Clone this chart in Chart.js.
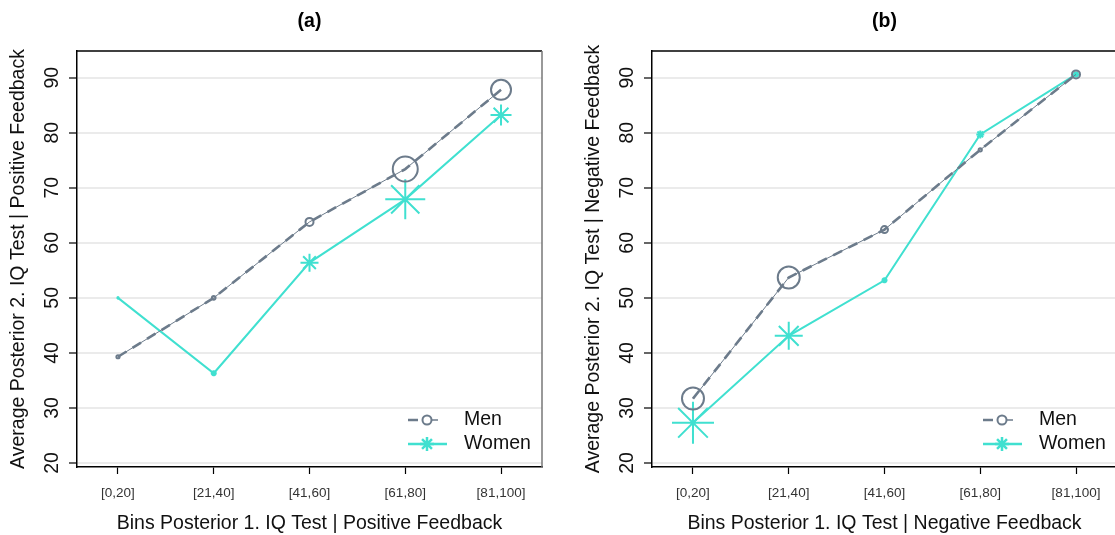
<!DOCTYPE html>
<html><head><meta charset="utf-8">
<script src="https://cdn.jsdelivr.net/npm/chart.js@4.4.0/dist/chart.umd.min.js"></script>
<style>
html,body{margin:0;padding:0;background:#fff;overflow:hidden;width:1115px;height:535px;position:relative;}
.panel{position:absolute;top:0;width:575px;height:535px;}
#pa{left:0}
#pb{left:575px}
</style></head><body>
<div class="panel" id="pa"><canvas id="ca" width="575" height="535"></canvas></div>
<div class="panel" id="pb"><canvas id="cb" width="575" height="535"></canvas></div>
<script>
// ---- data ----
const categories = ['[0,20]', '[21,40]', '[41,60]', '[61,80]', '[81,100]'];
const yTicks = [20, 30, 40, 50, 60, 70, 80, 90];
const seriesNames = ['Men', 'Women'];

const menA   = [39.3, 50.0, 63.8, 73.4, 87.8];
const womenA = [50.0, 36.3, 56.4, 67.9, 83.2];
const menB   = [31.7, 53.7, 62.4, 76.9, 90.6];
const womenB = [27.3, 43.1, 53.2, 79.7, 90.6];

// marker radii (marker size varies by bin)
const menRadA   = [1.6, 1.8, 4, 12.5, 10];
const womenRadA = [1.5, 3, 9, 20, 10.5];
const menRadB   = [11, 11, 3.5, 1.6, 4];
const womenRadB = [21, 14, 3, 4, 3];

const titleA = '(a)';
const titleB = '(b)';
const yTitleA = 'Average Posterior 2. IQ Test | Positive Feedback';
const yTitleB = 'Average Posterior 2. IQ Test | Negative Feedback';
const xTitleA = 'Bins Posterior 1. IQ Test | Positive Feedback';
const xTitleB = 'Bins Posterior 1. IQ Test | Negative Feedback';

// ---- styles ----
const GRAY = '#6c7b8b';
const TURQ = '#40e0d0';
const FONT = "'Liberation Sans', Arial, Helvetica, sans-serif";
Chart.defaults.font.family = FONT;

function pts(vals) { return vals.map((v, i) => ({x: i + 1, y: v})); }

const framePlugin = {
  id: 'frame',
  beforeDatasetsDraw(chart) {
    const {ctx, chartArea: a} = chart;
    ctx.save();
    ctx.lineWidth = 1.5;
    ctx.strokeStyle = '#000';
    ctx.beginPath(); ctx.moveTo(a.left, a.top); ctx.lineTo(a.right, a.top); ctx.stroke();
    ctx.strokeStyle = '#777';
    ctx.beginPath(); ctx.moveTo(a.right, a.top); ctx.lineTo(a.right, a.bottom); ctx.stroke();
    ctx.restore();
  }
};

const legendPlugin = {
  id: 'customLegend',
  afterDatasetsDraw(chart) {
    const {ctx, chartArea: a} = chart;
    const x0 = a.right - 134, xc = a.right - 115, x1 = a.right - 96, xt = a.right - 78;
    const yMen = a.bottom - 47, yWomen = a.bottom - 23;
    ctx.save();
    // Men
    ctx.strokeStyle = GRAY;
    ctx.lineWidth = 2.5;
    ctx.beginPath(); ctx.moveTo(x0, yMen); ctx.lineTo(x0 + 10, yMen); ctx.stroke();
    ctx.lineWidth = 1.5;
    ctx.beginPath(); ctx.moveTo(xc + 4, yMen); ctx.lineTo(xc + 11, yMen); ctx.stroke();
    ctx.lineWidth = 2;
    ctx.beginPath(); ctx.arc(xc, yMen, 4.5, 0, Math.PI * 2); ctx.stroke();
    // Women
    ctx.strokeStyle = TURQ;
    ctx.lineWidth = 2.5;
    ctx.beginPath(); ctx.moveTo(x0, yWomen); ctx.lineTo(x1 + 1, yWomen); ctx.stroke();
    Chart.helpers.drawPoint(ctx, {pointStyle: 'star', radius: 7, borderWidth: 2, rotation: 0}, xc, yWomen);
    // text
    ctx.fillStyle = '#111';
    ctx.font = '19.5px ' + FONT;
    ctx.textBaseline = 'middle';
    ctx.textAlign = 'left';
    ctx.fillText(seriesNames[0], xt, yMen);
    ctx.fillText(seriesNames[1], xt, yWomen);
    ctx.restore();
  }
};

function makeChart(id, title, yTitle, xTitle, men, women, menRad, womenRad) {
  return new Chart(document.getElementById(id), {
    type: 'line',
    data: {
      datasets: [
        {
          label: seriesNames[0], data: pts(men), borderColor: GRAY, borderWidth: 1,
          pointStyle: 'circle', pointRadius: menRad, pointBorderWidth: 2,
          pointBorderColor: GRAY, pointBackgroundColor: 'rgba(0,0,0,0)', tension: 0
        },
        {
          label: seriesNames[0] + ' dash', data: pts(men), borderColor: GRAY, borderWidth: 2.6,
          borderDash: [10, 7], pointRadius: 0, tension: 0
        },
        {
          label: seriesNames[1], data: pts(women), borderColor: TURQ, borderWidth: 2,
          pointStyle: 'star', pointRadius: womenRad, pointBorderWidth: 2,
          pointBorderColor: TURQ, pointBackgroundColor: TURQ, tension: 0
        }
      ]
    },
    options: {
      responsive: false,
      animation: false,
      events: [],
      layout: {padding: {left: 0, right: 33, top: 0, bottom: 0}},
      plugins: {
        legend: {display: false},
        tooltip: {enabled: false},
        title: {
          display: true, text: title, fullSize: false, color: '#000',
          font: {size: 19.5, weight: 'bold', lineHeight: 1.2},
          padding: {top: 9.5, bottom: 18.1}
        }
      },
      scales: {
        x: {
          type: 'linear', min: 0.572, max: 5.428,
          afterBuildTicks: s => { s.ticks = categories.map((c, i) => ({value: i + 1})); },
          afterFit: s => { s.height = 68; },
          ticks: {
            callback: v => categories[Math.round(v) - 1],
            font: {size: 13.5}, color: '#333', padding: 11,
            minRotation: 0, maxRotation: 0, autoSkip: false
          },
          grid: {drawOnChartArea: false, drawTicks: true, tickLength: 7, tickColor: '#000', tickWidth: 1.2},
          border: {color: '#000', width: 1.5},
          title: {display: true, text: xTitle, color: '#111', font: {size: 19.5, lineHeight: 1.2}, padding: {top: 0, bottom: 0}}
        },
        y: {
          min: 19.27, max: 94.85,
          afterBuildTicks: s => { s.ticks = yTicks.map(v => ({value: v})); },
          afterFit: s => { s.width = 77; },
          ticks: {
            font: {size: 19.5}, color: '#111', minRotation: 90, maxRotation: 90,
            crossAlign: 'center', padding: 5.5
          },
          grid: {color: '#ebebeb', lineWidth: 2, tickLength: 8, tickColor: '#000', tickWidth: 1.2},
          border: {color: '#000', width: 1.5},
          title: {display: true, text: yTitle, color: '#111', font: {size: 19.5, lineHeight: 1.2}, padding: {top: 7.3, bottom: 0}}
        }
      }
    },
    plugins: [framePlugin, legendPlugin]
  });
}

makeChart('ca', titleA, yTitleA, xTitleA, menA, womenA, menRadA, womenRadA);
makeChart('cb', titleB, yTitleB, xTitleB, menB, womenB, menRadB, womenRadB);
</script>
</body></html>
